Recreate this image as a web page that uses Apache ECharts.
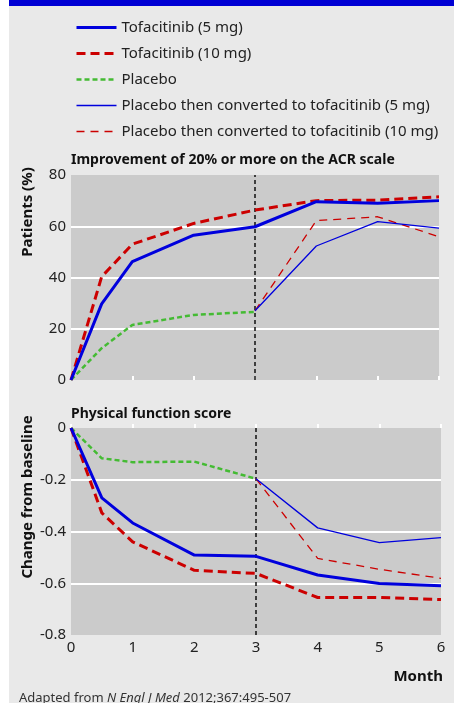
<!DOCTYPE html>
<html style="height: 100%">
<head>
<meta charset="utf-8">
<script src="https://cdn.jsdelivr.net/npm/echarts@6/dist/echarts.min.js"></script>
</head>
<body style="height: 100%; margin: 0; background: #fff">
<div id="main" style="width: 454px; height: 703px"></div>
<script type="text/javascript">
// months on the x axis
var months = [0, 0.5, 1, 2, 3, 4, 5, 6];
var monthsAfter = [3, 4, 5, 6];

// ACR20 response, patients (%)
var acrTofa5 = [0, 29.7, 46.2, 56.5, 59.8, 69.6, 69, 70];
var acrTofa10 = [0, 40.3, 53, 61.1, 66.3, 70, 70.2, 71.5];
var acrPlacebo = [0, 12.4, 21.5, 25.4, 26.6];
var acrPlaceboTo5 = [27, 52.3, 61.8, 59.3];
var acrPlaceboTo10 = [27, 62.2, 63.7, 55.9];

// physical function score, change from baseline
var hTofa5 = [0, -0.27, -0.367, -0.491, -0.496, -0.568, -0.601, -0.61];
var hTofa10 = [0, -0.328, -0.44, -0.55, -0.562, -0.655, -0.655, -0.663];
var hPlacebo = [0, -0.117, -0.132, -0.13, -0.196];
var hPlaceboTo5 = [-0.196, -0.386, -0.443, -0.424];
var hPlaceboTo10 = [-0.196, -0.504, -0.546, -0.581];

var names = ['Tofacitinib (5 mg)', 'Tofacitinib (10 mg)', 'Placebo',
  'Placebo then converted to tofacitinib (5 mg)', 'Placebo then converted to tofacitinib (10 mg)'];

var font = 'Noto Sans';
var styles = [
  {color: '#0000dd', width: 3, type: 'solid'},
  {color: '#cc0000', width: 3, type: [9, 5]},
  {color: '#44bb33', width: 2.5, type: [5, 3]},
  {color: '#0000dd', width: 1.3, type: 'solid'},
  {color: '#cc0000', width: 1.3, type: [8, 6]}
];

function pairs(xs, ys) {
  var out = [];
  for (var i = 0; i < ys.length; i++) out.push([xs[i], ys[i]]);
  return out;
}

function makeSeries(idx, sets) {
  var list = [];
  for (var i = 0; i < sets.length; i++) {
    list.push({
      name: names[i],
      type: 'line',
      xAxisIndex: idx,
      yAxisIndex: idx,
      data: sets[i],
      symbol: 'none',
      lineStyle: styles[i],
      itemStyle: {color: styles[i].color},
      z: 10 - i,
      silent: true,
      animation: false
    });
  }
  list[0].markLine = {
    silent: true,
    symbol: 'none',
    label: {show: false},
    lineStyle: {color: '#111', width: 1.5, type: [4, 3]},
    data: [{xAxis: 3}]
  };
  return list;
}

var series = makeSeries(0, [
  pairs(months, acrTofa5), pairs(months, acrTofa10), pairs(months, acrPlacebo),
  pairs(monthsAfter, acrPlaceboTo5), pairs(monthsAfter, acrPlaceboTo10)
]).concat(makeSeries(1, [
  pairs(months, hTofa5), pairs(months, hTofa10), pairs(months, hPlacebo),
  pairs(monthsAfter, hPlaceboTo5), pairs(monthsAfter, hPlaceboTo10)
]));

var legendData = names.map(function (n, i) {
  return {name: n, lineStyle: {width: styles[i].width, type: styles[i].type, color: styles[i].color}};
});

function xAxis(idx, showLabels) {
  return {
    type: 'value', gridIndex: idx, min: 0, max: 6, interval: 1,
    axisLine: {show: false},
    axisTick: {show: true, inside: true, length: 4, lineStyle: {color: '#fff', width: 2}},
    axisLabel: {show: showLabels, color: '#222', fontSize: 15, fontFamily: font, margin: 5},
    splitLine: {show: false}
  };
}

function yAxis(idx, min, max, interval, fmt) {
  return {
    type: 'value', gridIndex: idx, min: min, max: max, interval: interval,
    axisLine: {show: false},
    axisTick: {show: false},
    axisLabel: {color: '#222', fontSize: 15, fontFamily: font, margin: 5, formatter: fmt},
    splitLine: {show: true, lineStyle: {color: ['transparent', '#fff', '#fff', '#fff', 'transparent'], width: 2}}
  };
}

var myChart = echarts.init(document.getElementById('main'));
myChart.setOption({
  backgroundColor: '#fff',
  graphic: [
    {type: 'rect', shape: {x: 9, y: 0, width: 445, height: 703}, style: {fill: '#e9e9e9'}, z: -10},
    {type: 'rect', shape: {x: 9, y: 0, width: 445, height: 6}, style: {fill: '#0000d4'}, z: -9},
    {type: 'text', x: 28, y: 212, rotation: Math.PI / 2, style: {
      text: 'Patients (%)', fill: '#111', font: 'bold 15px "Noto Sans"', align: 'center', verticalAlign: 'middle'}},
    {type: 'text', x: 28, y: 497, rotation: Math.PI / 2, style: {
      text: 'Change from baseline', fill: '#111', font: 'bold 15px "Noto Sans"', align: 'center', verticalAlign: 'middle'}},
    {type: 'text', x: 443, y: 677, style: {
      text: 'Month', fill: '#111', font: 'bold 15px "Noto Sans"', align: 'right', verticalAlign: 'middle'}}
  ],
  title: [
    {text: 'Improvement of 20% or more on the ACR scale', left: 66, top: 148,
      textStyle: {fontSize: 14, fontWeight: 'bold', color: '#111', fontFamily: font}},
    {text: 'Physical function score', left: 66, top: 402,
      textStyle: {fontSize: 14, fontWeight: 'bold', color: '#111', fontFamily: font}},
    {text: 'Adapted from {i|N Engl J Med} 2012;367:495-507', left: 14, top: 687,
      textStyle: {fontSize: 13, fontWeight: 'normal', color: '#333', fontFamily: font,
        rich: {i: {fontStyle: 'italic', fontSize: 13, color: '#333', fontFamily: font}}}}
  ],
  legend: {
    data: legendData,
    orient: 'vertical',
    left: 70,
    top: 15,
    itemWidth: 40,
    itemHeight: 14,
    itemGap: 11,
    selectedMode: false,
    itemStyle: {opacity: 0},
    textStyle: {fontSize: 15, color: '#222', fontFamily: font}
  },
  grid: [
    {left: 71, top: 175, width: 368, height: 205, show: true, backgroundColor: '#cbcbcb', borderWidth: 0},
    {left: 71, top: 428, width: 370, height: 207, show: true, backgroundColor: '#cbcbcb', borderWidth: 0}
  ],
  xAxis: [xAxis(0, false), xAxis(1, true)],
  yAxis: [
    yAxis(0, 0, 80, 20),
    yAxis(1, -0.8, 0, 0.2, function (v) { return v === 0 ? '0' : v.toFixed(1); })
  ],
  series: series
});
</script>
</body>
</html>
